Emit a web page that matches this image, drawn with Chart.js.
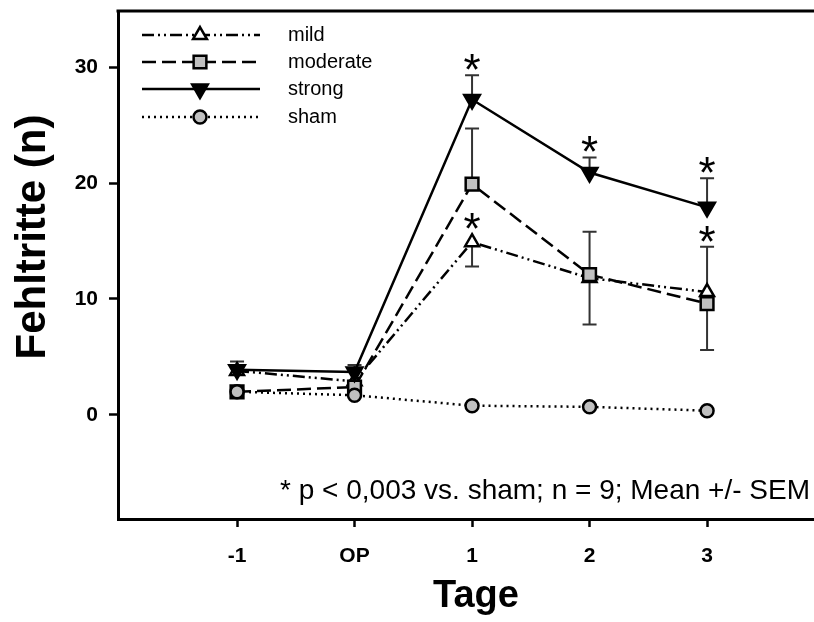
<!DOCTYPE html>
<html lang="de">
<head>
    <meta charset="UTF-8">
    <script src="https://cdn.jsdelivr.net/npm/chart.js"></script>
    <title>Fehltritte</title>
    <style>
        html, body { margin: 0; padding: 0; background: #fff; }
        #wrap { width: 814px; height: 622px; }
    </style>
</head>
<body>
<div id="wrap"><canvas id="fehlChart" width="814" height="622"></canvas></div>
<script>
    // categories (days) and tick labels
    const tage = ['-1', 'OP', '1', '2', '3'];
    const yTicks = [0, 10, 20, 30];

    // means
    const mild     = [3.8, 2.9, 14.9, 11.8, 10.6];
    const moderate = [2.0, 2.4, 19.9, 12.1, 9.6];
    const strong   = [3.9, 3.7, 27.2, 20.9, 17.9];
    const sham     = [2.0, 1.7, 0.8, 0.7, 0.37];

    // SEM bars as drawn (upper / lower part)
    const mildErrUp       = [0, 0, 0, 0, 3.9];
    const mildErrDown     = [0, 0, 2.1, 0, 0];
    const moderateErrUp   = [0, 0, 4.8, 3.7, 0];
    const moderateErrDown = [0, 0, 0, 4.3, 4.0];
    const strongErrUp     = [0.7, 0.6, 2.1, 1.3, 2.5];
    const strongErrDown   = [0, 0, 0, 0, 0];

    // significance (* p < 0,003 vs. sham)
    const mildSig   = [false, false, true, false, true];
    const strongSig = [false, false, true, true, true];

    const FONT = '"Liberation Sans", Arial, sans-serif';
    const GREY = '#c0c0c0';

    function pts(arr) {
        return arr.map((v, i) => ({ x: i, y: v }));
    }

    const series = [
        { label: 'mild', data: mild, up: mildErrUp, down: mildErrDown, sig: mildSig,
          dash: [12, 4, 2, 4, 2, 4], style: 'triangle', rot: 0, r: 8, fill: '#fff', order: 3 },
        { label: 'moderate', data: moderate, up: moderateErrUp, down: moderateErrDown, sig: null,
          dash: [14, 6], style: 'rect', rot: 0, r: 9, fill: GREY, order: 2 },
        { label: 'strong', data: strong, up: strongErrUp, down: strongErrDown, sig: strongSig,
          dash: [], style: 'triangle', rot: 180, r: 9, fill: '#000', order: 1 },
        { label: 'sham', data: sham, up: null, down: null, sig: null,
          dash: [2, 4], style: 'circle', rot: 0, r: 6.5, fill: GREY, order: 0 }
    ];

    const datasets = series.map(s => ({
        label: s.label,
        data: pts(s.data),
        borderColor: '#000',
        borderWidth: 2.5,
        borderDash: s.dash,
        borderCapStyle: 'butt',
        tension: 0,
        fill: false,
        order: s.order,
        pointStyle: s.style,
        rotation: s.rot,
        pointRadius: s.r,
        pointHoverRadius: s.r,
        pointBackgroundColor: s.fill,
        pointBorderColor: '#000',
        pointBorderWidth: 2.5
    }));

    const decor = {
        id: 'decor',
        beforeDatasetsDraw(chart) {
            const ctx = chart.ctx;
            const xs = chart.scales.x, ys = chart.scales.y;
            ctx.save();
            ctx.strokeStyle = '#333';
            ctx.lineWidth = 2;
            series.forEach(s => {
                if (!s.up) return;
                s.data.forEach((v, i) => {
                    const x = xs.getPixelForValue(i);
                    const y = ys.getPixelForValue(v);
                    [[s.up[i], -1], [s.down[i], 1]].forEach(([e, dir]) => {
                        if (!e) return;
                        const ye = ys.getPixelForValue(v - dir * e);
                        ctx.beginPath();
                        ctx.moveTo(x, y);
                        ctx.lineTo(x, ye);
                        ctx.moveTo(x - 7, ye);
                        ctx.lineTo(x + 7, ye);
                        ctx.stroke();
                    });
                });
            });
            ctx.restore();
        },
        afterDraw(chart) {
            const ctx = chart.ctx;
            const area = chart.chartArea;
            const xs = chart.scales.x, ys = chart.scales.y;
            ctx.save();

            // top frame line
            ctx.strokeStyle = '#000';
            ctx.lineWidth = 3;
            ctx.beginPath();
            ctx.moveTo(area.left - 1.5, area.top);
            ctx.lineTo(area.right, area.top);
            ctx.stroke();

            // asterisks
            ctx.fillStyle = '#000';
            ctx.font = '44px ' + FONT;
            ctx.textAlign = 'center';
            ctx.textBaseline = 'alphabetic';
            const m = ctx.measureText('*');
            const asc = m.actualBoundingBoxAscent, desc = m.actualBoundingBoxDescent;
            series.forEach(s => {
                if (!s.sig) return;
                s.data.forEach((v, i) => {
                    if (!s.sig[i]) return;
                    const x = xs.getPixelForValue(i);
                    const topY = s.up[i] ? ys.getPixelForValue(v + s.up[i]) : ys.getPixelForValue(v) - s.r;
                    const cy = topY - 13;
                    ctx.fillText('*', x, cy + (asc - desc) / 2);
                });
            });

            // legend
            const rows = [35, 62, 89, 117];
            series.forEach((s, k) => {
                const y = rows[k];
                ctx.save();
                ctx.strokeStyle = '#000';
                ctx.lineWidth = 2.5;
                ctx.lineCap = 'butt';
                ctx.setLineDash(s.dash);
                ctx.beginPath();
                ctx.moveTo(142, y);
                ctx.lineTo(260, y);
                ctx.stroke();
                ctx.restore();

                ctx.save();
                ctx.fillStyle = s.fill;
                ctx.strokeStyle = '#000';
                ctx.lineWidth = 2.5;
                Chart.helpers.drawPoint(ctx, {
                    pointStyle: s.style, rotation: s.rot, radius: s.r, borderWidth: 2.5
                }, 200, y);
                ctx.restore();

                ctx.fillStyle = '#000';
                ctx.font = '20px ' + FONT;
                ctx.textAlign = 'left';
                ctx.textBaseline = 'middle';
                ctx.fillText(s.label, 288, y);
            });

            // note
            ctx.fillStyle = '#000';
            ctx.font = '28px ' + FONT;
            ctx.textAlign = 'right';
            ctx.textBaseline = 'alphabetic';
            ctx.fillText('* p < 0,003 vs. sham; n = 9; Mean +/- SEM', 810, 499);

            // axis titles
            ctx.font = 'bold 38px ' + FONT;
            ctx.textAlign = 'center';
            ctx.fillText('Tage', 476, 607);

            ctx.translate(45, 237);
            ctx.rotate(-Math.PI / 2);
            ctx.font = 'bold 42px ' + FONT;
            ctx.fillText('Fehltritte (n)', 0, 0);
            ctx.restore();
        }
    };

    new Chart(document.getElementById('fehlChart').getContext('2d'), {
        type: 'line',
        data: { datasets: datasets },
        options: {
            responsive: false,
            animation: false,
            events: [],
            layout: { padding: { top: 11, right: 0, bottom: 0, left: 0 }, autoPadding: false },
            plugins: { legend: { display: false }, tooltip: { enabled: false } },
            scales: {
                x: {
                    type: 'linear',
                    min: -1.013,
                    max: 4.91,
                    afterFit: s => { s.height = 103; s.paddingLeft = 0; s.paddingRight = 0; },
                    afterBuildTicks: s => { s.ticks = tage.map((t, i) => ({ value: i })); },
                    ticks: {
                        callback: v => tage[v],
                        font: { family: FONT, size: 21, weight: 'bold' },
                        color: '#000',
                        padding: 17,
                        maxRotation: 0,
                        autoSkip: false
                    },
                    grid: { drawOnChartArea: false, drawTicks: true, tickLength: 8, tickWidth: 2.5, tickColor: '#000' },
                    border: { display: true, color: '#000', width: 3 }
                },
                y: {
                    type: 'linear',
                    min: -8.97,
                    max: 34.83,
                    afterFit: s => { s.width = 118; s.paddingTop = 0; s.paddingBottom = 0; },
                    afterBuildTicks: s => { s.ticks = yTicks.map(v => ({ value: v })); },
                    ticks: {
                        callback: v => String(v),
                        font: { family: FONT, size: 21, weight: 'bold' },
                        color: '#000',
                        padding: 11
                    },
                    grid: { drawOnChartArea: false, drawTicks: true, tickLength: 9, tickWidth: 2.5, tickColor: '#000' },
                    border: { display: true, color: '#000', width: 3 }
                }
            }
        },
        plugins: [decor]
    });
</script>
</body>
</html>
